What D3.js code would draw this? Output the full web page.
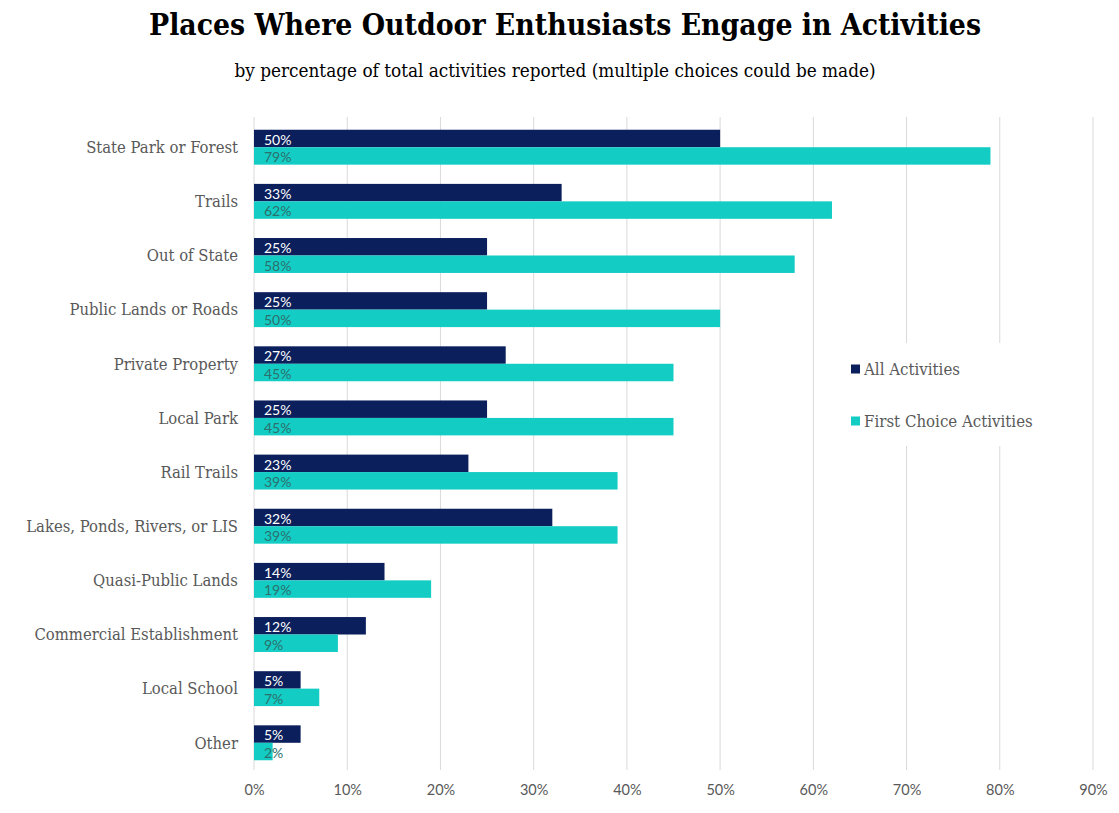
<!DOCTYPE html>
<html>
<head>
<meta charset="utf-8">
<script src="https://cdn.jsdelivr.net/npm/d3@7"></script>
<style>
  html, body { margin: 0; padding: 0; background: #fff; }
  svg { display: block; }
</style>
</head>
<body>
<svg id="chart" width="1119" height="813"></svg>
<script>
const categories = [
  "State Park or Forest", "Trails", "Out of State", "Public Lands or Roads",
  "Private Property", "Local Park", "Rail Trails", "Lakes, Ponds, Rivers, or LIS",
  "Quasi-Public Lands", "Commercial Establishment", "Local School", "Other"
];
const allActivities = [50, 33, 25, 25, 27, 25, 23, 32, 14, 12, 5, 5];
const firstChoice   = [79, 62, 58, 50, 45, 45, 39, 39, 19, 9, 7, 2];
const seriesNames = ["All Activities", "First Choice Activities"];
const seriesColors = ["#0b1f5c", "#13cdc5"];
const tickValues = [0, 10, 20, 30, 40, 50, 60, 70, 80, 90];

const serif = "'DejaVu Serif Condensed', 'DejaVu Serif', serif";
const sans = "Lato, 'Open Sans', sans-serif";

const svg = d3.select("#chart");
const margin = { left: 254, right: 26, top: 120, bottom: 43 };
const W = 1119, H = 813;

const x = d3.scaleLinear().domain([0, 90]).range([margin.left, W - margin.right]);
const y = d3.scaleBand().domain(categories).range([margin.top, H - margin.bottom]).paddingInner(0.355).paddingOuter(0.18);
const ySub = d3.scaleBand().domain([0, 1]).range([0, y.bandwidth()]);

// Title and subtitle
svg.append("text").attr("x", 565).attr("y", 35).attr("text-anchor", "middle")
  .attr("font-family", serif).attr("font-weight", "bold").attr("font-size", 29.8)
  .attr("fill", "#000").text("Places Where Outdoor Enthusiasts Engage in Activities");
svg.append("text").attr("x", 555).attr("y", 77).attr("text-anchor", "middle")
  .attr("font-family", serif).attr("font-size", 18.8)
  .attr("fill", "#000").text("by percentage of total activities reported (multiple choices could be made)");

// Vertical gridlines
const grid = svg.append("g");
grid.selectAll("line").data(tickValues).join("line")
  .attr("x1", d => x(d)).attr("x2", d => x(d))
  .attr("y1", 117).attr("y2", 770)
  .attr("stroke", "#d9d9d9").attr("stroke-width", 1);

// Bars with value labels at the base
const rows = svg.append("g").selectAll("g").data(categories).join("g")
  .attr("transform", d => `translate(0,${y(d)})`);
const series = [allActivities, firstChoice];
series.forEach((vals, si) => {
  rows.append("rect")
    .attr("x", x(0))
    .attr("y", ySub(si))
    .attr("width", (d, i) => x(vals[i]) - x(0))
    .attr("height", ySub.bandwidth())
    .attr("fill", seriesColors[si]);
  rows.append("text")
    .attr("x", x(0) + 10)
    .attr("y", ySub(si) + ySub.bandwidth() / 2)
    .attr("dy", "0.45em")
    .attr("font-family", sans).attr("font-size", 14)
    .attr("fill", si === 0 ? "#ffffff" : "#2d6f6c")
    .text((d, i) => vals[i] + "%");
});

// Category axis labels
svg.append("g").selectAll("text").data(categories).join("text")
  .attr("x", 238).attr("y", d => y(d) + y.bandwidth() / 2)
  .attr("dy", "0.35em").attr("text-anchor", "end")
  .attr("font-family", serif).attr("font-size", 16.5).attr("fill", "#595959")
  .text(d => d);

// Value axis
const xAxis = d3.axisBottom(x).tickValues(tickValues).tickFormat(d => d + "%").tickSize(0).tickPadding(0);
const ax = svg.append("g").attr("transform", `translate(0,790)`).call(xAxis);
ax.select(".domain").remove();
ax.selectAll("text").attr("font-family", sans).attr("font-size", 14.5).attr("fill", "#595959").attr("dy", "0.35em");

// Legend with white backing
const lg = svg.append("g");
lg.append("rect").attr("x", 838).attr("y", 343).attr("width", 205).attr("height", 103).attr("fill", "#fff");
seriesNames.forEach((name, i) => {
  const cy = 369 + i * 52;
  lg.append("rect").attr("x", 851).attr("y", cy - 4.5).attr("width", 9).attr("height", 9).attr("fill", seriesColors[i]);
  lg.append("text").attr("x", 864).attr("y", cy).attr("dy", "0.35em")
    .attr("font-family", serif).attr("font-size", 16.7).attr("fill", "#595959").text(name);
});
</script>
</body>
</html>
